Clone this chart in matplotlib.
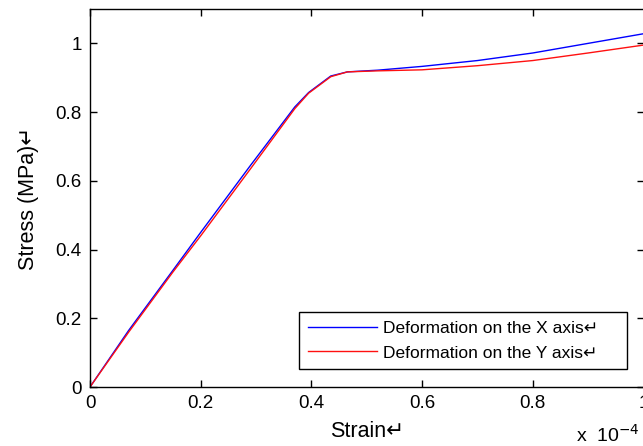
import matplotlib
matplotlib.use("Agg")
import matplotlib.pyplot as plt

plt.rcParams['font.family'] = ['Liberation Sans', 'DejaVu Sans']

# strain in units of 1e-4, stress in MPa
strain = [0, 0.07, 0.15, 0.2, 0.29, 0.37, 0.395, 0.435, 0.465, 0.52, 0.6, 0.7, 0.8, 0.9, 1.0]
stress_x = [0, 0.165, 0.34, 0.45, 0.645, 0.815, 0.857, 0.905, 0.917, 0.922, 0.933, 0.95, 0.972, 1.0, 1.028]
stress_y = [0, 0.16, 0.335, 0.44, 0.635, 0.81, 0.855, 0.903, 0.917, 0.92, 0.923, 0.935, 0.95, 0.972, 0.995]

xticks = [0, 0.2, 0.4, 0.6, 0.8, 1]
xticklabels = ["0", "0.2", "0.4", "0.6", "0.8", "1"]
yticks = [0, 0.2, 0.4, 0.6, 0.8, 1]
yticklabels = ["0", "0.2", "0.4", "0.6", "0.8", "1"]

fig = plt.figure(figsize=(6.43, 4.46), dpi=100)
ax = fig.add_axes([90/643, 1-387/446, 553.5/643, 378/446])

ax.plot(strain, stress_x, color="blue", lw=1, label="Deformation on the X axis\u21b5    ")
ax.plot(strain, stress_y, color="#ff1010", lw=1, label="Deformation on the Y axis\u21b5    ")

ax.set_xlim(0, 1)
ax.set_ylim(0, 1.1)
ax.set_xticks(xticks)
ax.set_xticklabels(xticklabels)
ax.set_yticks(yticks)
ax.set_yticklabels(yticklabels)
ax.tick_params(direction="in", length=5, width=1, top=True, right=True, labelsize=13.5, pad=6)
for s in ax.spines.values():
    s.set_linewidth(1)

ax.set_xlabel("Strain\u21b5", fontsize=15.5, labelpad=6)
ax.set_ylabel("Stress (MPa)\u21b5", fontsize=15.5, labelpad=12)

leg = ax.legend(loc="upper left", bbox_to_anchor=(299/643, 1-312/446), bbox_transform=fig.transFigure,
                fontsize=12.5, fancybox=False, edgecolor="black", framealpha=1,
                handlelength=4.0, handletextpad=0.35, borderpad=0.5, labelspacing=0.55, borderaxespad=0)
leg.get_frame().set_linewidth(1)

fig.text(640/643, 1-442/446, r"x  10$^{-4}$", fontsize=14, ha="right")

fig.savefig("out.png", dpi=100)
